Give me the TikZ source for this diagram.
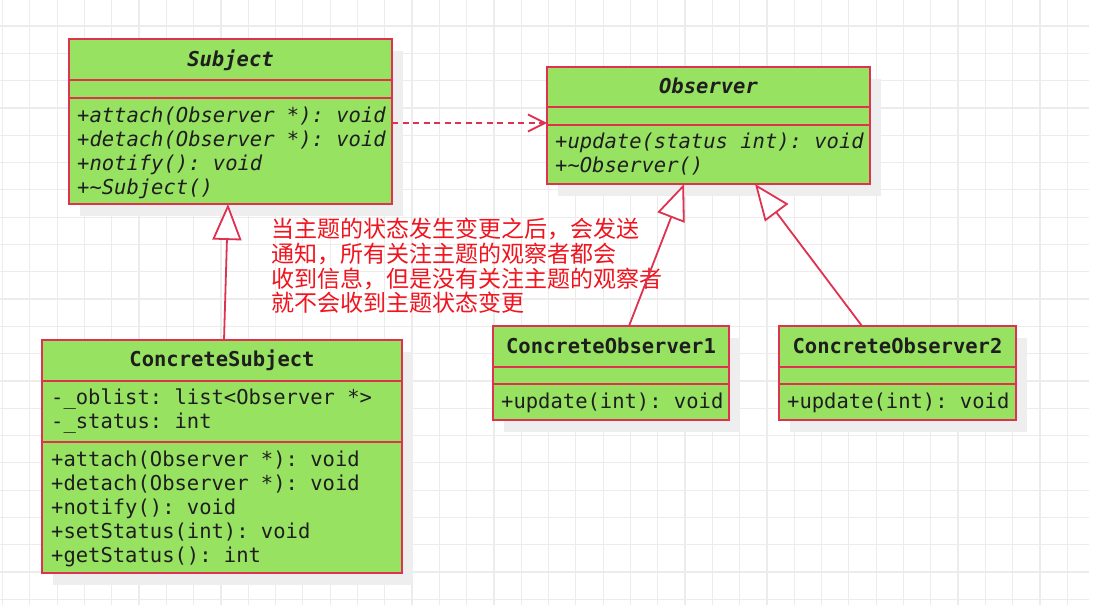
\documentclass[tikz,border=0pt]{standalone}
\usepackage{fontspec}
\setmonofont{DejaVu Sans Mono}
\newfontfamily\cjk{Noto Sans CJK SC}
\usetikzlibrary{arrows.meta}
\definecolor{umlred}{RGB}{222,50,80}
\definecolor{umlgreen}{RGB}{152,226,98}
\definecolor{umltext}{RGB}{30,30,30}
\definecolor{notered}{RGB}{240,20,30}
\definecolor{gridc}{RGB}{236,236,236}
\definecolor{shadowc}{RGB}{238,238,238}
\begin{document}
\begin{tikzpicture}[x=1pt,y=-1pt,
  classbox/.style={draw=umlred, fill=umlgreen, line width=2pt, rectangle, inner sep=0pt, outer sep=0pt, anchor=north west},
  divider/.style={draw=umlred, line width=2pt},
  shadowbox/.style={fill=shadowc},
  gridline/.style={draw=gridc, line width=1.2pt},
  member/.style={font=\ttfamily\fontsize{20.5}{24}\selectfont, text=umltext, inner sep=0pt, anchor=base west},
  imember/.style={font=\ttfamily\itshape\fontsize{20.5}{24}\selectfont, text=umltext, inner sep=0pt, anchor=base west},
  ctitle/.style={font=\ttfamily\bfseries\fontsize{20.5}{24}\selectfont, text=umltext, inner sep=0pt, anchor=base},
  ititle/.style={font=\ttfamily\bfseries\itshape\fontsize{20.5}{24}\selectfont, text=umltext, inner sep=0pt, anchor=base},
  note/.style={font=\cjk\fontsize{23}{24.6}\selectfont, text=notered, inner sep=0pt, anchor=base west},
  inh/.style={draw=umlred, line width=1.8pt, -{Triangle[open, fill=white, length=36pt, width=29pt]}},
  dep/.style={draw=umlred, line width=1.8pt, dash pattern=on 6pt off 4.5pt, -{Straight Barb[length=17pt, width=17pt]}}
]
\useasboundingbox[fill=white] (0,0) rectangle (1113,610);
% grid
\foreach \i in {0,...,39} \draw[gridline] ({2.5+27.3*\i},0) -- ({2.5+27.3*\i},605);
\foreach \j in {0,...,21} \draw[gridline] (0,{26+27.3*\j}) -- (1089,{26+27.3*\j});
% shadows
\fill[shadowbox] (80,51) rectangle (403,216);
\fill[shadowbox] (558,79) rectangle (881,196);
\fill[shadowbox] (53,352) rectangle (413,585);
\fill[shadowbox] (504,338) rectangle (740,432);
\fill[shadowbox] (790,338) rectangle (1027,432);

% Subject
\node[classbox, minimum width=323pt, minimum height=165pt] (subject) at (69,39) {};
\draw[divider] (subject.west |- 0,80) -- (subject.east |- 0,80);
\draw[divider] (subject.west |- 0,98) -- (subject.east |- 0,98);
\node[ititle] (subjectT) at (230.5,66.5) {Subject};
\node[imember] (s1) at (77,122) {+attach(Observer *): void};
\node[imember] (s2) at (77,146) {+detach(Observer *): void};
\node[imember] (s3) at (77,170) {+notify(): void};
\node[imember] (s4) at (77,194) {+\textasciitilde Subject()};

% Observer
\node[classbox, minimum width=323pt, minimum height=117pt] (observer) at (547,67) {};
\draw[divider] (observer.west |- 0,107) -- (observer.east |- 0,107);
\draw[divider] (observer.west |- 0,125) -- (observer.east |- 0,125);
\node[ititle] (observerT) at (708.5,93.5) {Observer};
\node[imember] (o1) at (555,148) {+update(status int): void};
\node[imember] (o2) at (555,172) {+\textasciitilde Observer()};

% ConcreteSubject
\node[classbox, minimum width=360pt, minimum height=233pt] (cs) at (42,340) {};
\draw[divider] (cs.west |- 0,381) -- (cs.east |- 0,381);
\draw[divider] (cs.west |- 0,442) -- (cs.east |- 0,442);
\node[ctitle] (csT) at (222,366) {ConcreteSubject};
\node[member] (c1) at (51,404) {-\_oblist: list<Observer *>};
\node[member] (c2) at (51,428) {-\_status: int};
\node[member] (c3) at (51,466) {+attach(Observer *): void};
\node[member] (c4) at (51,490) {+detach(Observer *): void};
\node[member] (c5) at (51,514) {+notify(): void};
\node[member] (c6) at (51,538) {+setStatus(int): void};
\node[member] (c7) at (51,562) {+getStatus(): int};

% ConcreteObserver1
\node[classbox, minimum width=236pt, minimum height=94pt] (co1) at (493,326) {};
\draw[divider] (co1.west |- 0,367) -- (co1.east |- 0,367);
\draw[divider] (co1.west |- 0,384) -- (co1.east |- 0,384);
\node[ctitle] (co1T) at (611,353) {ConcreteObserver1};
\node[member] (co1m) at (501,408) {+update(int): void};

% ConcreteObserver2
\node[classbox, minimum width=237pt, minimum height=94pt] (co2) at (779,326) {};
\draw[divider] (co2.west |- 0,367) -- (co2.east |- 0,367);
\draw[divider] (co2.west |- 0,384) -- (co2.east |- 0,384);
\node[ctitle] (co2T) at (897.5,353) {ConcreteObserver2};
\node[member] (co2m) at (787,408) {+update(int): void};

% note
\node[note] (n1) at (271,237.8) {当主题的状态发生变更之后，会发送};
\node[note] (n2) at (271,262.4) {通知，所有关注主题的观察者都会};
\node[note] (n3) at (271,287) {收到信息，但是没有关注主题的观察者};
\node[note] (n4) at (271,311.8) {就不会收到主题状态变更};

% connectors
\draw[dep] ([yshift=-1.5pt]subject.east) -- ([yshift=2.5pt]observer.west);
\draw[inh] ([xshift=2pt]cs.north) -- ([xshift=-2.5pt]subject.south);
\draw[inh] ([xshift=18pt]co1.north) -- ([xshift=-24.5pt]observer.south);
\draw[inh] ([xshift=-35.5pt]co2.north) -- ([xshift=46.5pt]observer.south);
\end{tikzpicture}
\end{document}
